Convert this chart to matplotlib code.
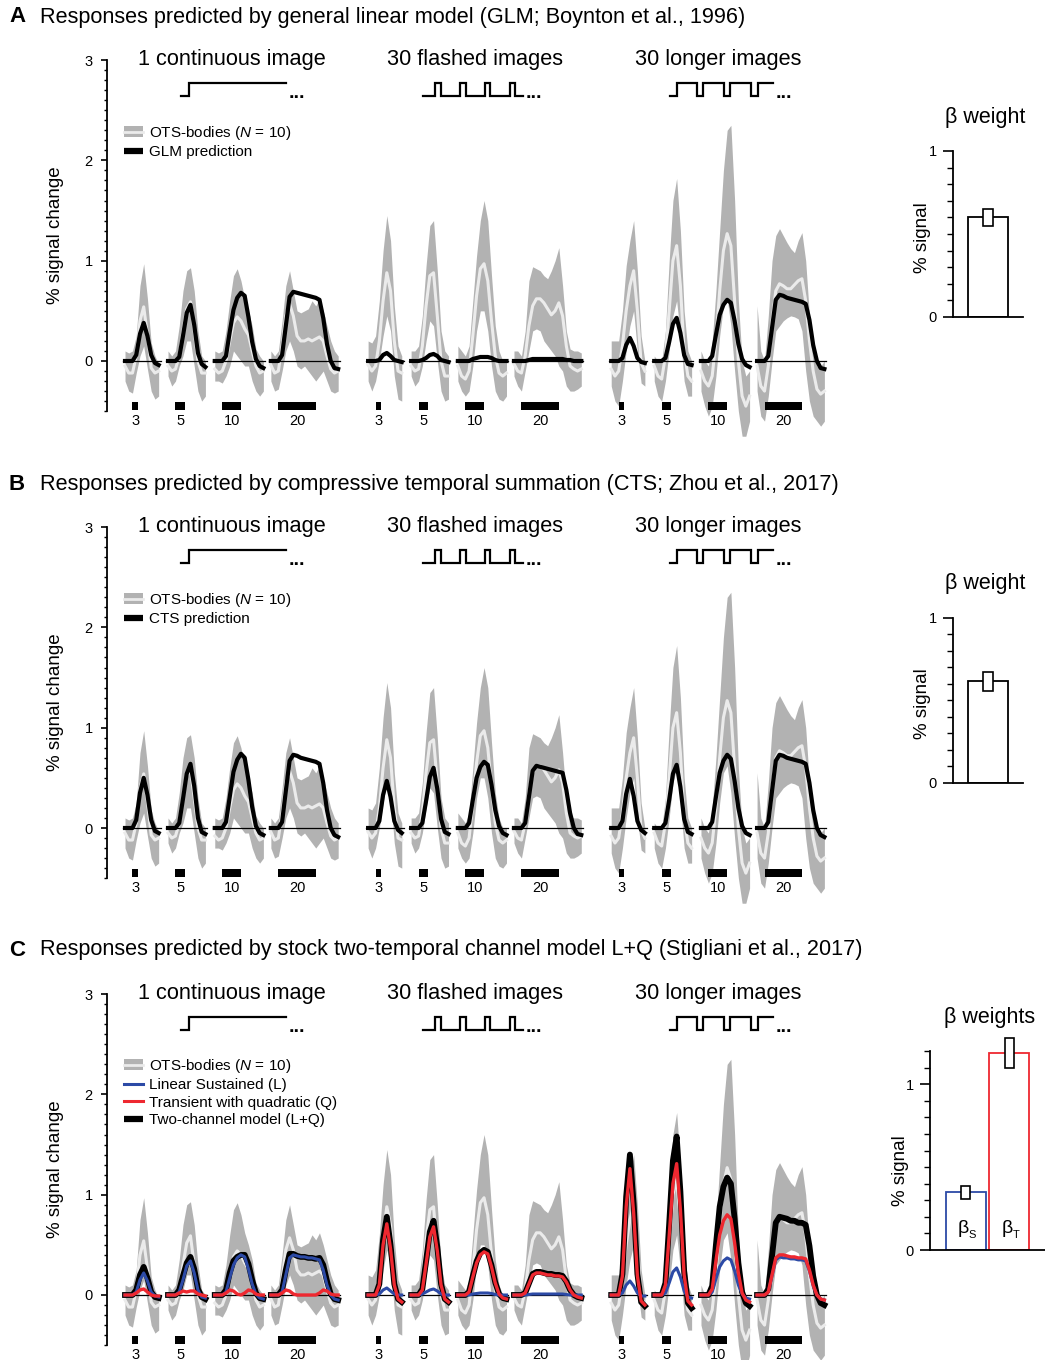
import numpy as np
import matplotlib
matplotlib.use("Agg")
import matplotlib.pyplot as plt
from matplotlib.patches import Patch
from matplotlib.lines import Line2D

plt.rcParams["font.family"] = ["Liberation Sans", "DejaVu Sans"]
plt.rcParams["mathtext.fontset"] = "custom"
plt.rcParams["mathtext.rm"] = "Liberation Sans"
plt.rcParams["mathtext.it"] = "Liberation Sans:italic"

W, H = 1045, 1360

# trial layout (seconds); every segment is sampled every 2 s from its start
durations = [3, 5, 10, 20]
seg_len = [18, 20, 26, 36]
seg_start = [0, 23, 48, 78]
cond_start = [0, 130, 260]
stim_onset = 4
cond_titles = ["1 continuous image", "30 flashed images", "30 longer images"]

# stimulus schematics: edge times inside a block, alternating low / high
sched_cont = [30, 34, 86]
sched_flash = [29.6, 36, 38.8, 49.3, 52.1, 62.6, 65.4, 75.9, 78.7, 82.7]
sched_long = [31.4, 35, 46, 49.2, 60.3, 63.5, 75, 78.6, 86.5]

# ---- OTS-bodies data (mean and band), one list per duration ----
ots_mean_cont = [
    [-0.05, -0.12, -0.12, 0.05, 0.40, 0.54, 0.26, -0.07, -0.12, -0.10],
    [-0.05, -0.10, -0.08, 0.05, 0.30, 0.52, 0.59, 0.30, 0.00, -0.12, -0.12],
    [-0.08, -0.12, -0.10, 0.00, 0.20, 0.38, 0.44, 0.40, 0.32, 0.26, 0.10, -0.05, -0.12, -0.10],
    [-0.04, -0.12, -0.10, 0.15, 0.45, 0.57, 0.45, 0.25, 0.20, 0.20, 0.22, 0.20, 0.22, 0.24, 0.20, 0.05, -0.08, -0.12, -0.10],
]
ots_hi_cont = [
    [0.10, 0.08, 0.10, 0.25, 0.75, 0.97, 0.62, 0.18, 0.05, -0.03],
    [0.10, 0.05, 0.10, 0.35, 0.70, 0.90, 0.93, 0.70, 0.30, 0.05, 0.00],
    [0.10, 0.08, 0.10, 0.30, 0.60, 0.85, 0.92, 0.80, 0.62, 0.50, 0.35, 0.12, 0.05, 0.00],
    [0.10, 0.05, 0.10, 0.40, 0.75, 0.90, 0.70, 0.50, 0.48, 0.50, 0.52, 0.60, 0.55, 0.62, 0.50, 0.35, 0.20, 0.10, 0.05],
]
ots_lo_cont = [
    [-0.20, -0.30, -0.32, -0.12, 0.05, 0.15, -0.08, -0.30, -0.38, -0.35],
    [-0.15, -0.25, -0.20, -0.05, 0.05, 0.20, 0.20, -0.05, -0.30, -0.40, -0.35],
    [-0.20, -0.20, -0.22, -0.15, -0.05, 0.10, 0.05, 0.00, -0.05, -0.05, -0.20, -0.30, -0.35, -0.30],
    [-0.20, -0.30, -0.28, -0.10, 0.10, 0.20, 0.10, -0.05, -0.08, -0.05, -0.10, -0.15, -0.20, -0.15, -0.10, -0.20, -0.30, -0.32, -0.30],
]

ots_mean_flash = [
    [-0.04, -0.10, -0.05, 0.20, 0.60, 0.88, 0.70, 0.20, -0.10, -0.12],
    [-0.05, -0.10, -0.08, 0.15, 0.55, 0.85, 0.88, 0.45, 0.00, -0.15, -0.15],
    [-0.05, -0.15, -0.18, -0.10, 0.25, 0.65, 0.92, 0.97, 0.80, 0.40, 0.05, -0.12, -0.15, -0.12],
    [-0.03, -0.10, -0.12, 0.05, 0.35, 0.55, 0.62, 0.62, 0.58, 0.52, 0.46, 0.50, 0.58, 0.45, 0.15, -0.05, -0.08, -0.10, -0.08],
]
ots_hi_flash = [
    [0.20, 0.18, 0.25, 0.60, 1.10, 1.45, 1.20, 0.55, 0.15, 0.05],
    [0.10, 0.10, 0.15, 0.45, 0.95, 1.35, 1.40, 0.90, 0.30, 0.10, 0.05],
    [0.15, 0.10, 0.05, 0.15, 0.60, 1.05, 1.40, 1.60, 1.40, 0.85, 0.35, 0.10, 0.00, 0.00],
    [0.10, 0.10, 0.05, 0.30, 0.80, 0.94, 0.92, 0.90, 0.85, 0.82, 0.90, 1.00, 1.13, 0.75, 0.30, 0.12, 0.10, 0.10, 0.08],
]
ots_lo_flash = [
    [-0.20, -0.30, -0.20, 0.00, 0.25, 0.45, 0.30, -0.15, -0.38, -0.40],
    [-0.15, -0.25, -0.20, -0.05, 0.20, 0.40, 0.35, 0.00, -0.30, -0.40, -0.38],
    [-0.20, -0.30, -0.35, -0.30, -0.05, 0.30, 0.50, 0.50, 0.30, -0.05, -0.30, -0.38, -0.40, -0.35],
    [-0.15, -0.25, -0.30, -0.10, 0.10, 0.30, 0.32, 0.30, 0.20, 0.15, 0.10, 0.05, -0.05, -0.10, -0.25, -0.30, -0.30, -0.28, -0.25],
]

ots_mean_long = [
    [-0.08, -0.15, -0.10, 0.15, 0.50, 0.75, 0.90, 0.50, -0.02, -0.10],
    [-0.05, -0.15, -0.18, 0.05, 0.50, 1.00, 1.15, 0.75, 0.10, -0.15, -0.20],
    [-0.10, -0.20, -0.25, -0.15, 0.20, 0.70, 1.10, 1.27, 1.15, 0.60, 0.00, -0.35, -0.45, -0.35],
    [-0.05, -0.25, -0.30, -0.05, 0.40, 0.70, 0.77, 0.75, 0.72, 0.72, 0.76, 0.80, 0.82, 0.60, 0.20, -0.10, -0.28, -0.33, -0.30],
]
ots_hi_long = [
    [0.20, 0.20, 0.20, 0.50, 0.95, 1.20, 1.40, 0.90, 0.25, 0.00],
    [0.05, 0.00, 0.00, 0.30, 1.00, 1.60, 1.82, 1.30, 0.50, 0.10, 0.00],
    [0.10, 0.00, -0.05, 0.20, 0.70, 1.30, 1.90, 2.30, 2.35, 1.60, 0.60, 0.00, -0.15, -0.10],
    [0.55, 0.10, 0.00, 0.45, 1.00, 1.25, 1.32, 1.25, 1.18, 1.12, 1.08, 1.20, 1.28, 1.00, 0.45, 0.10, -0.05, -0.05, 0.00],
]
ots_lo_long = [
    [-0.25, -0.40, -0.45, -0.20, 0.10, 0.35, 0.50, 0.10, -0.22, -0.25],
    [-0.20, -0.35, -0.40, -0.20, 0.10, 0.45, 0.60, 0.25, -0.20, -0.35, -0.35],
    [-0.30, -0.45, -0.55, -0.45, -0.15, 0.25, 0.55, 0.62, 0.35, -0.10, -0.50, -0.75, -0.75, -0.60],
    [-0.30, -0.55, -0.60, -0.35, 0.00, 0.30, 0.35, 0.40, 0.43, 0.45, 0.44, 0.42, 0.30, -0.10, -0.40, -0.55, -0.60, -0.65, -0.60],
]

# ---- model predictions ----
glm_cont = [
    [0, 0, 0, 0.06, 0.27, 0.38, 0.25, 0.06, -0.02, -0.04],
    [0, 0, 0, 0.04, 0.25, 0.48, 0.56, 0.36, 0.08, -0.03, -0.06],
    [0, 0, 0, 0.05, 0.29, 0.51, 0.63, 0.68, 0.65, 0.44, 0.19, 0.02, -0.05, -0.07],
    [0, 0, 0, 0.06, 0.35, 0.64, 0.69, 0.68, 0.67, 0.66, 0.65, 0.64, 0.63, 0.61, 0.43, 0.17, 0.0, -0.07, -0.08],
]
glm_flash = [
    [0, 0, 0, 0.01, 0.06, 0.08, 0.05, 0.01, 0, -0.01],
    [0, 0, 0, 0.01, 0.03, 0.06, 0.07, 0.05, 0.01, 0, -0.01],
    [0, 0, 0, 0, 0.02, 0.03, 0.04, 0.04, 0.04, 0.03, 0.01, 0, 0, 0],
    [0, 0, 0, 0, 0.01, 0.02, 0.02, 0.02, 0.02, 0.02, 0.02, 0.02, 0.02, 0.02, 0.01, 0.01, 0, 0, 0],
]
glm_long = [
    [0, 0, 0, 0.03, 0.16, 0.23, 0.15, 0.03, -0.01, -0.02],
    [0, 0, 0, 0.03, 0.19, 0.37, 0.43, 0.28, 0.06, -0.03, -0.04],
    [0, 0, 0, 0.05, 0.26, 0.46, 0.56, 0.61, 0.58, 0.40, 0.17, 0.02, -0.04, -0.06],
    [0, 0, 0, 0.05, 0.33, 0.61, 0.66, 0.65, 0.63, 0.62, 0.61, 0.60, 0.59, 0.57, 0.41, 0.16, 0.0, -0.07, -0.08],
]

cts_cont = [
    [0, 0, 0, 0.08, 0.35, 0.50, 0.33, 0.08, -0.03, -0.05],
    [0, 0, 0, 0.05, 0.29, 0.54, 0.64, 0.42, 0.10, -0.04, -0.06],
    [0, 0, 0, 0.06, 0.31, 0.56, 0.68, 0.74, 0.70, 0.48, 0.21, 0.02, -0.05, -0.07],
    [0, 0, 0, 0.06, 0.37, 0.67, 0.73, 0.72, 0.70, 0.69, 0.68, 0.67, 0.66, 0.64, 0.45, 0.18, 0.0, -0.07, -0.09],
]
cts_flash = [
    [0, 0, 0, 0.07, 0.33, 0.47, 0.31, 0.07, -0.02, -0.05],
    [0, 0, 0, 0.05, 0.27, 0.51, 0.60, 0.39, 0.09, -0.04, -0.06],
    [0, 0, 0, 0.05, 0.28, 0.50, 0.61, 0.66, 0.63, 0.43, 0.18, 0.02, -0.05, -0.07],
    [0, 0, 0, 0.05, 0.31, 0.57, 0.62, 0.61, 0.60, 0.59, 0.58, 0.57, 0.56, 0.55, 0.38, 0.15, 0.0, -0.06, -0.07],
]
cts_long = [
    [0, 0, 0, 0.07, 0.34, 0.49, 0.32, 0.07, -0.02, -0.05],
    [0, 0, 0, 0.05, 0.28, 0.54, 0.63, 0.41, 0.09, -0.04, -0.06],
    [0, 0, 0, 0.06, 0.31, 0.55, 0.67, 0.73, 0.69, 0.47, 0.20, 0.02, -0.05, -0.07],
    [0, 0, 0, 0.06, 0.37, 0.67, 0.73, 0.72, 0.70, 0.69, 0.68, 0.67, 0.66, 0.64, 0.45, 0.18, 0.0, -0.07, -0.09],
]

# two-channel model: sustained (L) and transient (Q) channels
sus_cont = [
    [0, 0, 0, 0.03, 0.15, 0.22, 0.14, 0.03, -0.01, -0.02],
    [0, 0, 0, 0.03, 0.15, 0.29, 0.34, 0.22, 0.05, -0.02, -0.03],
    [0, 0, 0, 0.03, 0.17, 0.30, 0.37, 0.40, 0.38, 0.26, 0.11, 0.01, -0.03, -0.04],
    [0, 0, 0, 0.03, 0.20, 0.37, 0.40, 0.39, 0.38, 0.38, 0.37, 0.37, 0.36, 0.35, 0.25, 0.10, 0.0, -0.04, -0.05],
]
tra_cont = [
    [0, 0, 0, 0.02, 0.05, 0.06, 0.03, 0.0, -0.01, -0.01],
    [0, 0, 0, 0.02, 0.04, 0.03, 0.04, 0.04, 0.01, 0, -0.01],
    [0, 0, 0, 0.02, 0.05, 0.04, 0.01, 0.0, 0.02, 0.05, 0.04, 0.01, 0, 0],
    [0, 0, 0, 0.02, 0.05, 0.04, 0.01, 0, 0, 0, 0, 0, 0, 0.02, 0.05, 0.04, 0.01, 0, 0],
]
sus_flash = [
    [0, 0, 0, 0.01, 0.05, 0.07, 0.04, 0.01, 0, 0],
    [0, 0, 0, 0.01, 0.03, 0.05, 0.06, 0.04, 0.01, 0, 0],
    [0, 0, 0, 0, 0.01, 0.015, 0.02, 0.02, 0.02, 0.015, 0.005, 0, 0, 0],
    [0, 0, 0, 0, 0.005, 0.01, 0.01, 0.01, 0.01, 0.01, 0.01, 0.01, 0.01, 0.01, 0.005, 0, 0, 0, 0],
]
tra_flash = [
    [0, 0, 0, 0.10, 0.50, 0.71, 0.46, 0.10, -0.04, -0.07],
    [0, 0, 0, 0.05, 0.31, 0.58, 0.68, 0.44, 0.10, -0.04, -0.07],
    [0, 0, 0, 0.03, 0.18, 0.32, 0.40, 0.43, 0.41, 0.28, 0.12, 0.01, -0.03, -0.04],
    [0, 0, 0, 0.02, 0.11, 0.20, 0.22, 0.22, 0.21, 0.20, 0.20, 0.19, 0.19, 0.18, 0.13, 0.05, 0, -0.02, -0.03],
]
sus_long = [
    [0, 0, 0, 0.02, 0.10, 0.14, 0.09, 0.02, -0.01, -0.01],
    [0, 0, 0, 0.02, 0.12, 0.23, 0.27, 0.18, 0.04, -0.02, -0.03],
    [0, 0, 0, 0.03, 0.16, 0.28, 0.34, 0.37, 0.35, 0.24, 0.10, 0.01, -0.03, -0.04],
    [0, 0, 0, 0.03, 0.19, 0.35, 0.38, 0.37, 0.37, 0.36, 0.36, 0.35, 0.35, 0.34, 0.24, 0.09, 0, -0.04, -0.05],
]
tra_long = [
    [0, 0, 0, 0.19, 0.88, 1.26, 0.82, 0.19, -0.06, -0.10],
    [0, 0, 0, 0.10, 0.59, 1.11, 1.31, 0.85, 0.20, -0.06, -0.10],
    [0, 0, 0, 0.06, 0.34, 0.60, 0.74, 0.80, 0.76, 0.52, 0.22, 0.02, -0.05, -0.07],
    [0, 0, 0, 0.03, 0.20, 0.37, 0.40, 0.40, 0.39, 0.38, 0.38, 0.37, 0.37, 0.36, 0.25, 0.10, 0, -0.04, -0.05],
]

# beta weights: value, error low, error high
beta_glm = [0.60, 0.55, 0.65]
beta_cts = [0.62, 0.56, 0.67]
beta_sus = [0.35, 0.31, 0.385]
beta_tra = [1.19, 1.095, 1.28]

GRAY = "#b2b2b2"
MEAN_WHITE = "#ebebeb"
BLUE = "#2c4aa6"
RED = "#ee2830"

ots_mean = [ots_mean_cont, ots_mean_flash, ots_mean_long]
ots_lo = [ots_lo_cont, ots_lo_flash, ots_lo_long]
ots_hi = [ots_hi_cont, ots_hi_flash, ots_hi_long]
glm = [glm_cont, glm_flash, glm_long]
cts = [cts_cont, cts_flash, cts_long]
sus = [sus_cont, sus_flash, sus_long]
tra = [tra_cont, tra_flash, tra_long]
two_channel = [[np.add(a, b) for a, b in zip(sc, tc)] for sc, tc in zip(sus, tra)]
schedules = [sched_cont, sched_flash, sched_long]

fig = plt.figure(figsize=(W / 100, H / 100), dpi=100)


def px_axes(left, top, right, bottom):
    return fig.add_axes([left / W, 1 - bottom / H, (right - left) / W, (bottom - top) / H])


def seg_time(c, k):
    return cond_start[c] + seg_start[k] + np.arange(0, seg_len[k] + 1, 2)


def main_panel(y0, ylo, models, handles, labels, legend_top):
    s = 100.3
    top, bottom = y0 - 3.05 * s, y0 - ylo * s
    ax = px_axes(107, top, 830, bottom)
    ax.set_xlim(-9.63, 377)
    ax.set_ylim(ylo, 3.05)
    lo_lvl, hi_lvl = 2.645, 2.775
    for c in range(3):
        for k in range(4):
            t = seg_time(c, k)
            ax.fill_between(t, ots_lo[c][k], ots_hi[c][k], color=GRAY, lw=0)
            ax.plot(t, ots_mean[c][k], color=MEAN_WHITE, lw=2.2)
            ax.plot([t[0] - 1, t[-1] + 1], [0, 0], color="k", lw=0.9)
            for vals, col, lw in models:
                ax.plot(t, vals[c][k], color=col, lw=lw, solid_joinstyle="round")
            on = cond_start[c] + seg_start[k] + stim_onset
            ax.bar(on, 0.08, width=durations[k], bottom=-0.49, align="edge",
                   color="k", clip_on=False)
            ax.text(on + durations[k] / 2, -0.595, str(durations[k]), ha="center",
                    va="center", fontsize=10.5)
        c0 = cond_start[c]
        ax.text(c0 + 57, 3.01, cond_titles[c], ha="center", va="center", fontsize=15.7)
        edges = schedules[c]
        xs, ys = [], []
        for i in range(len(edges) - 1):
            lvl = lo_lvl if i % 2 == 0 else hi_lvl
            xs += [c0 + edges[i], c0 + edges[i + 1]]
            ys += [lvl, lvl]
        ax.plot(xs, ys, color="k", lw=1.6, solid_joinstyle="miter")
        ax.text(c0 + edges[-1] + 1.5, lo_lvl - 0.025, "...", ha="left", va="baseline",
                fontsize=14, fontweight="bold")
    for side in ["top", "right", "bottom"]:
        ax.spines[side].set_visible(False)
    ax.spines["left"].set_bounds(-0.5, 3)
    ax.spines["left"].set_linewidth(1.3)
    ax.set_xticks([])
    ax.set_yticks([0, 1, 2, 3])
    ax.set_yticks(np.arange(-0.5, 3.001, 0.1), minor=True)
    ax.tick_params(axis="y", which="major", length=4.2, width=1.2, labelsize=10.5, pad=6)
    ax.tick_params(axis="y", which="minor", length=2.4, width=1.0)
    ax.set_ylabel("% signal change", fontsize=13.5)
    ax.yaxis.set_label_coords(-0.06, (1.25 - ylo) / (3.05 - ylo))
    frac = (bottom - legend_top) / (bottom - top)
    ax.legend(handles, labels, loc="upper left", bbox_to_anchor=(0.0235, frac),
              frameon=False, fontsize=11, handlelength=1.25, handleheight=0.75,
              handletextpad=0.4, labelspacing=0.22, borderpad=0, borderaxespad=0)
    return ax


def inset(left, top, right, bottom, xlim, ymax, xs, betas, colors, title, title_x, lab_x):
    ax = px_axes(left, top, right, bottom)
    ax.set_xlim(*xlim)
    ax.set_ylim(0, ymax)
    for x, b, col in zip(xs, betas, colors):
        ax.bar(x, b[0], width=1.0, facecolor="white", edgecolor=col, lw=1.3, zorder=2)
        ax.bar(x, b[2] - b[1], bottom=b[1], width=0.24, facecolor="white",
               edgecolor="k", lw=1.2, zorder=3, clip_on=False)
    for side in ["top", "right"]:
        ax.spines[side].set_visible(False)
    ax.spines["left"].set_bounds(0, ymax)
    ax.spines["left"].set_linewidth(1.3)
    ax.spines["bottom"].set_linewidth(1.3)
    ax.set_xticks([])
    ax.set_yticks([0, 1])
    ax.set_yticks(np.arange(0, ymax + 0.001, 0.1), minor=True)
    ax.tick_params(axis="y", which="major", length=7.5, width=1.2, labelsize=10.5, pad=4)
    ax.tick_params(axis="y", which="minor", length=4, width=1.0)
    ax.set_ylabel("% signal", fontsize=13.5)
    ax.yaxis.set_label_coords(lab_x, 0.48 * 1.0 / ymax)
    ax.text(title_x, 1.0 + 34 / (bottom - top), title, transform=ax.transAxes,
            ha="center", va="center", fontsize=15.5)
    return ax


ots_handle = (Patch(facecolor=GRAY, edgecolor="none"), Line2D([], [], color=MEAN_WHITE, lw=2))
ots_label = "OTS-bodies ($\\mathit{N}$ = 10)"

# panel A
fig.text(9 / W, 1 - 17 / H, "A", fontsize=16, fontweight="bold", va="center")
fig.text(40 / W, 1 - 17 / H, "Responses predicted by general linear model (GLM; Boynton et al., 1996)",
         fontsize=15.6, va="center")
main_panel(361, -0.85, [(glm, "k", 3.0)],
           [ots_handle, Line2D([], [], color="k", lw=4.5, solid_capstyle="butt")],
           [ots_label, "GLM prediction"], 124)
inset(953, 151, 1023, 317, (-0.875, 0.875), 1.0, [0], [beta_glm], ["k"],
      "\u03b2 weight", 0.46, -0.31)

# panel B
fig.text(9 / W, 1 - 484 / H, "B", fontsize=16, fontweight="bold", va="center")
fig.text(40 / W, 1 - 484 / H,
         "Responses predicted by compressive temporal summation (CTS; Zhou et al., 2017)",
         fontsize=15.6, va="center")
main_panel(828, -0.85, [(cts, "k", 3.0)],
           [ots_handle, Line2D([], [], color="k", lw=4.5, solid_capstyle="butt")],
           [ots_label, "CTS prediction"], 591)
inset(953, 618, 1023, 783, (-0.875, 0.875), 1.0, [0], [beta_cts], ["k"],
      "\u03b2 weight", 0.46, -0.31)

# panel C
fig.text(9 / W, 1 - 950 / H, "C", fontsize=16, fontweight="bold", va="center")
fig.text(40 / W, 1 - 950 / H,
         "Responses predicted by stock two-temporal channel model L+Q (Stigliani et al., 2017)",
         fontsize=15.6, va="center")
main_panel(1295, -0.64, [(two_channel, "k", 4.2), (sus, BLUE, 2.2), (tra, RED, 2.4)],
           [ots_handle, Line2D([], [], color=BLUE, lw=2.2), Line2D([], [], color=RED, lw=2.2),
            Line2D([], [], color="k", lw=4.5, solid_capstyle="butt")],
           [ots_label, "Linear Sustained (L)", "Transient with quadratic (Q)",
            "Two-channel model (L+Q)"], 1057)
axc = inset(930, 1051, 1045, 1250, (-0.89, 1.99), 1.2, [0, 1.1], [beta_sus, beta_tra],
            [BLUE, RED], "\u03b2 weights", 0.52, -0.18)
for x, sub in [(0, "S"), (1.1, "T")]:
    axc.text(x - 0.05, 0.13, "\u03b2", ha="center", va="center", fontsize=14)
    axc.text(x + 0.16, 0.09, sub, ha="center", va="center", fontsize=8)

fig.savefig("out.png", dpi=100)
